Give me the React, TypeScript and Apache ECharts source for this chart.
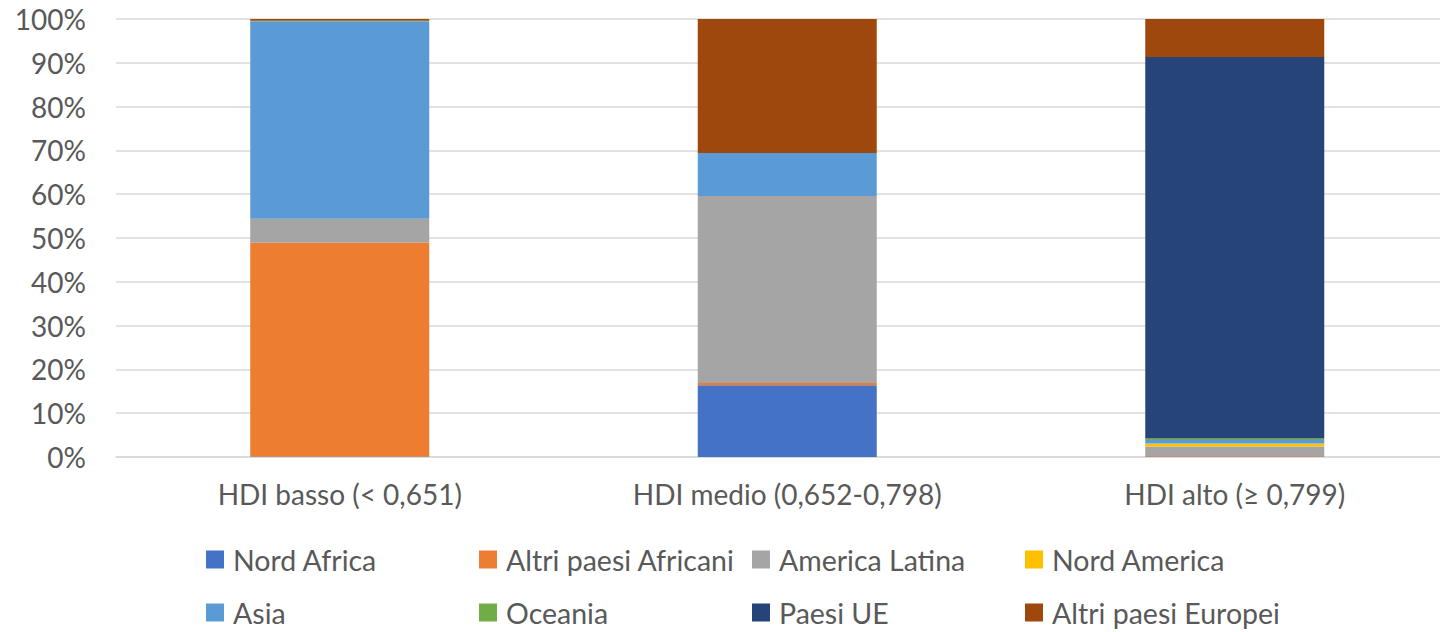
import React, { useEffect, useRef } from "react";
import * as echarts from "echarts";

const categories = ["HDI basso (< 0,651)", "HDI medio (0,652-0,798)", "HDI alto (≥ 0,799)"];

const seriesNames = [
  "Nord Africa",
  "Altri paesi Africani",
  "America Latina",
  "Nord America",
  "Asia",
  "Oceania",
  "Paesi UE",
  "Altri paesi Europei",
];

// Share (%) of each area within every HDI class
const nordAfrica = [0.1, 16.4, 0.1];
const altriAfricani = [48.8, 0.5, 0.1];
const americaLatina = [5.5, 42.7, 2.2];
const nordAmerica = [0, 0, 0.7];
const asia = [45.1, 9.8, 0.8];
const oceania = [0.1, 0, 0.3];
const paesiUE = [0, 0, 87.1];
const altriEuropei = [0.4, 30.6, 8.7];

const yTicks = [0, 10, 20, 30, 40, 50, 60, 70, 80, 90, 100];

const seriesValues = [nordAfrica, altriAfricani, americaLatina, nordAmerica, asia, oceania, paesiUE, altriEuropei];

const colors = ["#4472C4", "#ED7D31", "#A5A5A5", "#FFC000", "#5B9BD5", "#70AD47", "#264478", "#9E480E"];

const FONT = "Lato, 'Open Sans', sans-serif";
const TEXT = "#595959";

// legend slots: column x and row top for each series
const legendCols = [206, 479, 752, 1025];
const legendRows = [545, 598];

export default function App() {
  const ref = useRef<HTMLDivElement>(null);

  useEffect(() => {
    if (!ref.current) return;
    const chart = echarts.init(ref.current, null, { renderer: "svg" });

    const legends = seriesNames.map((name, i) => ({
      data: [name],
      left: legendCols[i % 4],
      top: legendRows[Math.floor(i / 4)],
      icon: "rect",
      itemWidth: 18,
      itemHeight: 18,
      padding: 0,
      selectedMode: false,
      textStyle: { fontFamily: FONT, fontSize: 28.5, color: TEXT, padding: [0, 0, 0, 4] },
    }));

    chart.setOption({
      animation: false,
      textStyle: { fontFamily: FONT },
      grid: { left: 116, right: -18.5, top: 19, bottom: 175, outerBoundsMode: "none" },
      legend: legends,
      xAxis: {
        type: "category",
        data: categories,
        axisLine: { show: true, lineStyle: { color: "#D9D9D9", width: 1.5 } },
        axisTick: { show: false },
        axisLabel: { fontFamily: FONT, fontSize: 28, color: TEXT, margin: 23 },
      },
      yAxis: {
        type: "value",
        min: yTicks[0],
        max: yTicks[yTicks.length - 1],
        interval: 10,
        axisLine: { show: false },
        axisTick: { show: false },
        splitLine: { lineStyle: { color: "#D9D9D9", width: 1.5 } },
        axisLabel: { fontFamily: FONT, fontSize: 28, color: TEXT, margin: 30, formatter: "{value}%" },
      },
      series: seriesNames.map((name, i) => ({
        name,
        type: "bar",
        stack: "tot",
        barWidth: 179,
        data: seriesValues[i],
        itemStyle: { color: colors[i] },
      })),
    });

    return () => chart.dispose();
  }, []);

  return <div ref={ref} style={{ position: "absolute", left: 0, top: 0, width: 1440, height: 632 }} />;
}
